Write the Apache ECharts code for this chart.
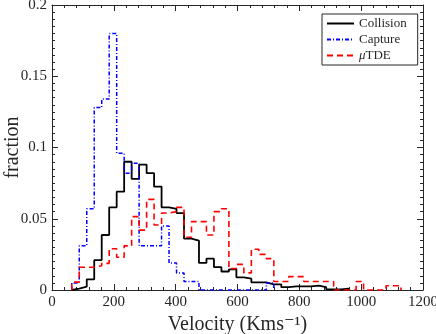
<!DOCTYPE html>
<html>
	<head>
		<meta charset="UTF-8">
		<title></title>
		<script src="https://cdn.jsdelivr.net/npm/echarts@6.0.0/dist/echarts.min.js"></script>
		<style>
			html, body { margin: 0; padding: 0; background: #fff; }
			#main { width: 436px; height: 334px; }
		</style>
	</head>
	<body>
		<div id="main"></div>
		<script>
			// bin layout of the histograms (km/s)
			var binStart = 64;
			var binWidth = 24.2;

			// fraction per bin
			var collision = [0.001, 0.0023, 0.0075, 0.021, 0.0386, 0.058, 0.069, 0.090, 0.078, 0.088,
				0.082, 0.0725, 0.058, 0.057, 0.054, 0.036, 0.0346, 0.019, 0.022, 0.016,
				0.013, 0.0145, 0.0089, 0.008, 0.0054, 0.0054, 0.004, 0.004, 0.002, 0.0025,
				0.0025, 0.0025, 0.003, 0.002, 0.0005, 0.0005, 0.001];
			var capture = [0.005, 0.031, 0.057, 0.128, 0.134, 0.18, 0.096, 0.082, 0.089, 0.031,
				0.031, 0.031, 0.045, 0.019, 0.012, 0.006, 0.006, 0, 0, 0,
				0, 0, 0, 0, 0, 0, 0.005];
			var mtde = [0.0055, 0.016, 0.016, 0.017, 0.0187, 0.029, 0.023, 0.031, 0.0515, 0.042,
				0.0636, 0.0456, 0.054, 0.055, 0.058, 0.037, 0.048, 0.048, 0.0386, 0.055,
				0.057, 0.015, 0.018, 0.012, 0.0286, 0.025, 0.022, 0.006, 0.006, 0.0094,
				0.0094, 0.006, 0.006, 0.006, 0.006, 0, 0, 0, 0.006, 0,
				0, 0, 0.003, 0.003];

			var xTicks = [0, 200, 400, 600, 800, 1000, 1200];
			var yTicks = [0, 0.05, 0.1, 0.15, 0.2];

			var font = 'Liberation Serif, DejaVu Serif, serif';
			var ink = '#262626';

			// turn bin heights into a stairs outline
			function stairs(vals) {
				var pts = [[binStart, 0]];
				for (var i = 0; i < vals.length; i++) {
					var a = binStart + i * binWidth;
					pts.push([a, vals[i]]);
					pts.push([a + binWidth, vals[i]]);
				}
				pts.push([binStart + vals.length * binWidth, 0]);
				return pts;
			}

			function xAxisOpt(pos, labels) {
				return {
					type: 'value', position: pos,
					min: xTicks[0], max: xTicks[xTicks.length - 1], interval: 200,
					axisLine: { show: true, onZero: false, lineStyle: { color: ink, width: 1 } },
					axisTick: { show: true, inside: true, length: 6, lineStyle: { color: ink } },
					minorTick: { show: true, splitNumber: 5, length: 3, lineStyle: { color: ink } },
					splitLine: { show: false },
					axisLabel: {
						show: labels, margin: 5, color: ink, fontFamily: font, fontSize: 15,
						formatter: function (v) { return String(v); }
					},
					name: labels ? 'Velocity (Kms\u207B\u00B9)' : '',
					nameLocation: 'middle', nameGap: 19,
					nameTextStyle: { color: ink, fontFamily: font, fontSize: 20 }
				};
			}

			function yAxisOpt(pos, labels) {
				return {
					type: 'value', position: pos,
					min: yTicks[0], max: yTicks[yTicks.length - 1], interval: 0.05,
					axisLine: { show: true, onZero: false, lineStyle: { color: ink, width: 1 } },
					axisTick: { show: true, inside: true, length: 6, lineStyle: { color: ink } },
					minorTick: { show: true, splitNumber: 10, length: 3, lineStyle: { color: ink } },
					splitLine: { show: false },
					axisLabel: { show: labels, margin: 5, color: ink, fontFamily: font, fontSize: 15 },
					name: labels ? 'fraction' : '',
					nameLocation: 'middle', nameGap: 29, nameMoveOverlap: false,
					nameTextStyle: { color: ink, fontFamily: font, fontSize: 20 }
				};
			}

			var chart = echarts.init(document.getElementById('main'));

			var option = {
				animation: false,
				grid: { left: 52, right: 13, top: 5, bottom: 44, containLabel: false, outerBoundsMode: 'none' },
				xAxis: [xAxisOpt('bottom', true), xAxisOpt('top', false)],
				yAxis: [yAxisOpt('left', true), yAxisOpt('right', false)],
				legend: {
					orient: 'vertical',
					left: 322, top: 14,
					padding: [3, 11, 3, 4],
					itemWidth: 27, itemHeight: 14, itemGap: 3,
					backgroundColor: '#fff',
					borderColor: ink, borderWidth: 1, borderRadius: 0,
					itemStyle: { opacity: 0 },
					textStyle: {
						color: ink, fontFamily: font, fontSize: 13,
						rich: { i: { fontStyle: 'italic', fontFamily: font, fontSize: 13, color: ink } }
					},
					formatter: function (name) {
						return name === 'μTDE' ? '{i|μ}TDE' : name;
					},
					data: ['Collision', 'Capture', 'μTDE']
				},
				series: [{
					name: 'Collision', type: 'line', symbol: 'none',
					lineStyle: { color: '#000', width: 1.8, type: 'solid' },
					itemStyle: { color: '#000' },
					data: stairs(collision)
				}, {
					name: 'Capture', type: 'line', symbol: 'none',
					lineStyle: { color: '#0000ff', width: 1.5, type: [4, 2, 1, 2] },
					itemStyle: { color: '#0000ff' },
					data: stairs(capture)
				}, {
					name: 'μTDE', type: 'line', symbol: 'none',
					lineStyle: { color: '#ff0000', width: 1.6, type: [6, 4] },
					itemStyle: { color: '#ff0000' },
					data: stairs(mtde)
				}]
			};

			chart.setOption(option);
		</script>
	</body>
</html>
